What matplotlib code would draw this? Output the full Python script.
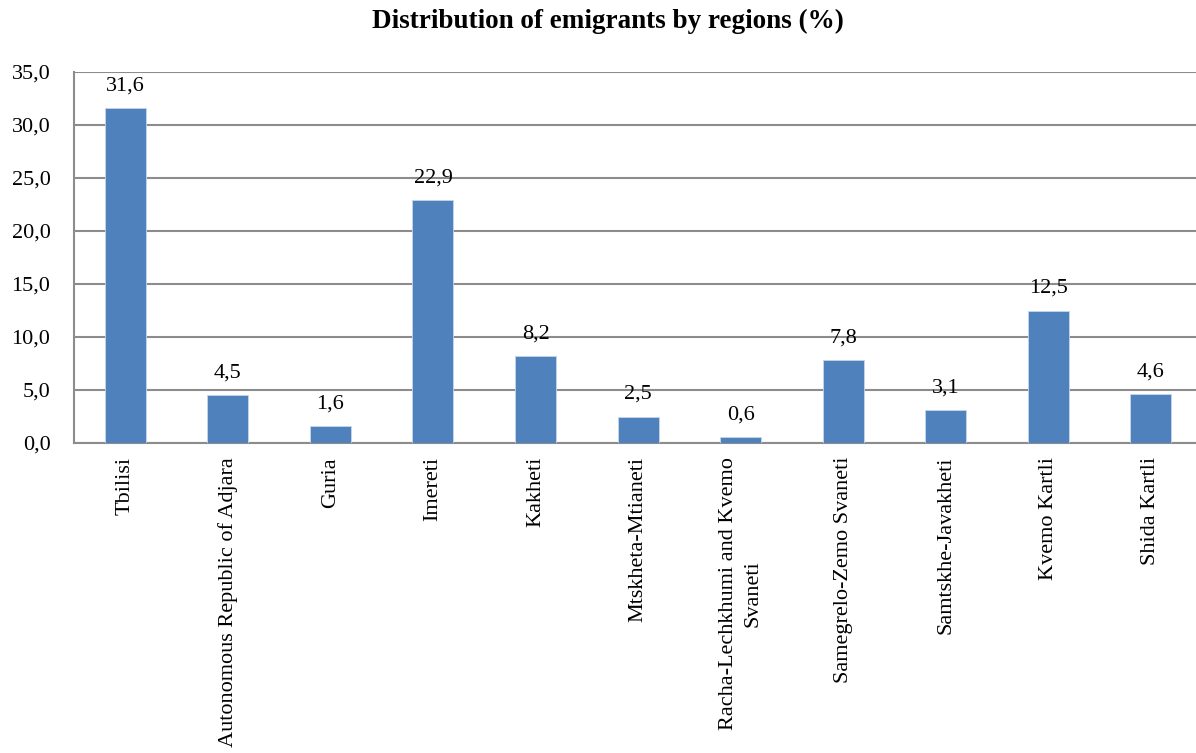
import matplotlib
matplotlib.use("Agg")
import matplotlib.pyplot as plt
from matplotlib.ticker import FuncFormatter, MultipleLocator

# Data
regions = [
    "Tbilisi",
    "Autonomous Republic of Adjara",
    "Guria",
    "Imereti",
    "Kakheti",
    "Mtskheta-Mtianeti",
    "Racha-Lechkhumi and Kvemo\nSvaneti",
    "Samegrelo-Zemo Svaneti",
    "Samtskhe-Javakheti",
    "Kvemo Kartli",
    "Shida Kartli",
]
shares = [31.6, 4.5, 1.6, 22.9, 8.2, 2.5, 0.6, 7.8, 3.1, 12.5, 4.6]

plt.rcParams['font.family'] = ['Liberation Serif', 'DejaVu Serif']

fig = plt.figure(figsize=(11.96, 7.53), dpi=100)
ax = fig.add_axes([74 / 1196, 1 - 443 / 753, (1196 - 74) / 1196, (443 - 72) / 753])

x = range(len(regions))
ax.bar(x, shares, width=0.4, color='#4F81BD', edgecolor='#C6D6EA', linewidth=0.6, zorder=3)

# value labels above bars
for i, v in zip(x, shares):
    ax.annotate(f"{v:.1f}".replace('.', ','), (i, v), xytext=(0, 9), textcoords='offset points',
                ha='center', va='bottom', fontsize=16)

ax.set_xlim(-0.5, 10.44)
ax.set_ylim(0, 35)
ax.yaxis.set_major_locator(MultipleLocator(5))
ax.yaxis.set_major_formatter(FuncFormatter(lambda v, p: f"{v:.1f}".replace('.', ',')))
ax.grid(axis='y', color='#8C8C8C', linewidth=1.5, zorder=0)

ax.set_xticks(list(x))
ax.set_xticklabels(regions, rotation=90, ha='center', va='top', fontsize=16, multialignment='center',
                   linespacing=1.4)
ax.tick_params(axis='both', length=0, labelsize=16)
ax.tick_params(axis='x', pad=10)
ax.tick_params(axis='y', pad=17)

for s in ['top', 'right']:
    ax.spines[s].set_visible(False)
ax.spines['left'].set_color('#8C8C8C')
ax.spines['bottom'].set_color('#8C8C8C')
ax.spines['left'].set_linewidth(1.5)
ax.spines['bottom'].set_linewidth(1.5)

fig.text(608 / 1196, 1 - 21 / 753, "Distribution of emigrants by regions (%)", ha='center', va='center',
         fontsize=19.5, fontweight='bold')

plt.savefig('out.png', dpi=100)
